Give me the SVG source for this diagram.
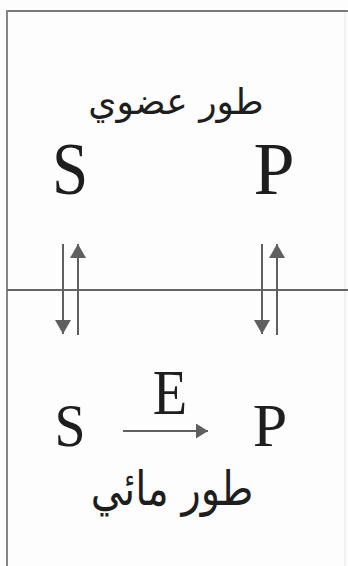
<svg xmlns="http://www.w3.org/2000/svg" width="348" height="566" viewBox="0 0 348 566">
<style>
.lat{font-family:"Liberation Serif","Times New Roman",serif;fill:#1e1e1e}
.ar{font-family:"DejaVu Sans",sans-serif;fill:#1e1e1e}
.ln{stroke:#5f5f5f;stroke-width:2;fill:none}
</style>
<defs>
<marker id="ah" viewBox="0 0 14 16" refX="14" refY="8" markerWidth="14" markerHeight="16" markerUnits="userSpaceOnUse" orient="auto">
<path d="M0,0 L14,8 L0,16 Z" fill="#5f5f5f"/>
</marker>
<marker id="ahs" viewBox="0 0 12 15" refX="12" refY="7.5" markerWidth="12" markerHeight="15" markerUnits="userSpaceOnUse" orient="auto">
<path d="M0,0 L12,7.5 L0,15 Z" fill="#5f5f5f"/>
</marker>
</defs>
<rect width="348" height="566" fill="#fdfdfd"/>
<g id="frame">
<line x1="7" y1="11" x2="348" y2="11" stroke="#7a7a7a" stroke-width="2"/>
<line x1="7" y1="10" x2="7" y2="566" stroke="#858585" stroke-width="2"/>
<line x1="345" y1="12" x2="345" y2="566" stroke="#e6e6e6" stroke-width="1"/>
<line x1="7" y1="290" x2="348" y2="290" stroke="#666" stroke-width="2"/>
</g>
<g id="organic-label"><text class="ar" x="176" y="114" font-size="36" text-anchor="middle" direction="rtl">طور عضوي</text></g>
<g id="S-organic"><text class="lat" x="0" y="194" font-size="74" text-anchor="middle" transform="translate(70,0) scale(0.88,1)">S</text></g>
<g id="P-organic"><text class="lat" x="274" y="194" font-size="74" text-anchor="middle">P</text></g>
<g id="S-aqueous"><text class="lat" x="0" y="446" font-size="62" text-anchor="middle" transform="translate(70,0) scale(0.9,1)">S</text></g>
<g id="E"><text class="lat" x="0" y="414" font-size="64" text-anchor="middle" transform="translate(170,0) scale(0.88,1)">E</text></g>
<g id="P-aqueous"><text class="lat" x="270" y="446" font-size="62" text-anchor="middle">P</text></g>
<g id="aqueous-label"><text class="ar" x="0" y="0" font-size="40" text-anchor="middle" direction="rtl" transform="translate(172,505) scale(1,1.2)">طور مائي</text></g>
<g id="connectors">
<line class="ln" x1="63" y1="244" x2="63" y2="334" marker-end="url(#ah)"/>
<line class="ln" x1="78" y1="335" x2="78" y2="244" marker-end="url(#ah)"/>
<line class="ln" x1="262" y1="244" x2="262" y2="334" marker-end="url(#ah)"/>
<line class="ln" x1="277" y1="335" x2="277" y2="244" marker-end="url(#ah)"/>
<line class="ln" x1="123" y1="431" x2="208" y2="431" marker-end="url(#ahs)"/>
</g>
</svg>
